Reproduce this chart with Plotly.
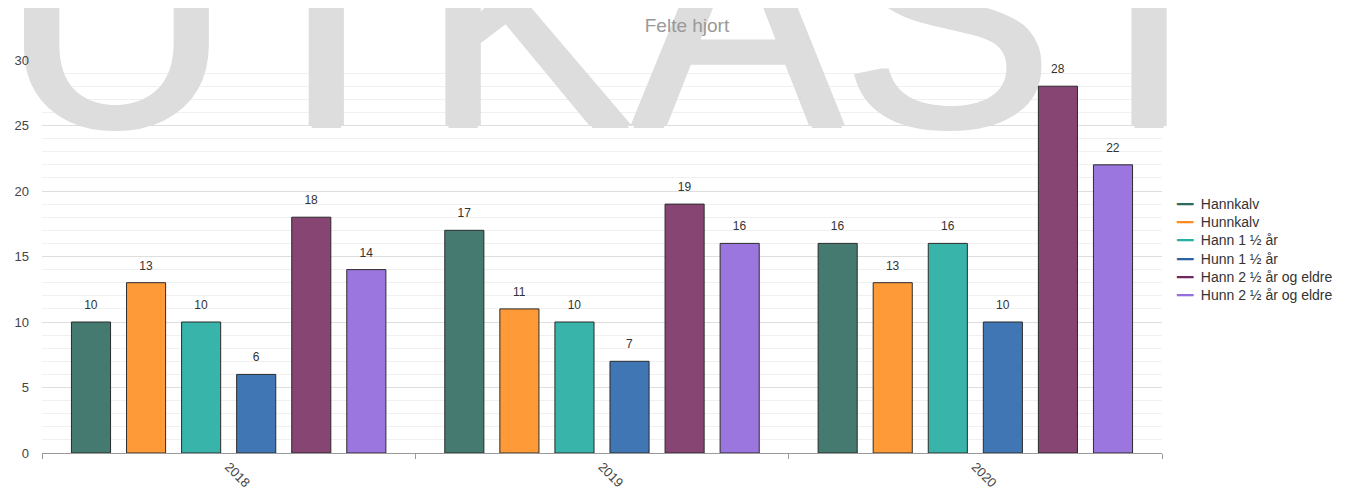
import plotly.graph_objects as go

years = ["2018", "2019", "2020"]
series_names = [
    "Hannkalv",
    "Hunnkalv",
    "Hann 1 ½ år",
    "Hunn 1 ½ år",
    "Hann 2 ½ år og eldre",
    "Hunn 2 ½ år og eldre",
]
hannkalv = [10, 17, 16]
hunnkalv = [13, 11, 13]
hann_1_5 = [10, 10, 16]
hunn_1_5 = [6, 7, 10]
hann_2_5 = [18, 19, 28]
hunn_2_5 = [14, 16, 22]
series_values = [hannkalv, hunnkalv, hann_1_5, hunn_1_5, hann_2_5, hunn_2_5]
watermark_text = "UTKAST"

bar_colors = ["#457a70", "#ff9a38", "#38b4aa", "#3f76b3", "#864572", "#9a76de"]
legend_colors = ["#2d6b5e", "#ff8c22", "#25b0a5", "#2a62a8", "#6e2a5e", "#9370db"]

FONT = "Liberation Sans, Arial, sans-serif"
W, H = 1353, 487
L, R, T, B = 34, 199, 52, 42
PW, PH = W - L - R, H - T - B
YMAX = 30

fig = go.Figure()

# watermark, drawn behind the bars (on the hidden linear base x axis)
WM_SIZE = 315
WM_COLOR = "#dddddd"
wm_baseline = 118                       # px from top of figure
wm_anchor_px = wm_baseline + 0.25 * WM_SIZE   # 'top center' puts baseline 0.25em above point
fig.add_trace(go.Scatter(
    x=[(616 - L) / PW],
    y=[(T + PH - wm_anchor_px) / PH * YMAX],
    mode="text",
    text=[watermark_text],
    textposition="top center",
    textfont=dict(
        size=WM_SIZE, color=WM_COLOR, family=FONT,
        shadow=f"3px 0 0 {WM_COLOR}, -3px 0 0 {WM_COLOR}, 0 2px 0 {WM_COLOR}",
    ),
    cliponaxis=False,
    showlegend=False,
    hoverinfo="skip",
    xaxis="x",
    yaxis="y",
))

for name, vals, col in zip(series_names, series_values, bar_colors):
    fig.add_trace(go.Bar(
        name=name,
        x=years,
        y=vals,
        marker=dict(color=col, line=dict(color="#2b2b2b", width=1)),
        texttemplate="<span style='font-size:12px'>%{y}</span><br> ",
        textposition="outside",
        textfont=dict(size=7, color="#333333", family=FONT),
        cliponaxis=False,
        showlegend=False,
        hoverinfo="x+y+name",
        xaxis="x2",
        yaxis="y",
    ))

legend_lines = [
    f"<span style='color:{c}'>━━</span>  {n}" for n, c in zip(series_names, legend_colors)
]

fig.update_layout(
    width=W,
    height=H,
    margin=dict(l=L, r=R, t=T, b=B, autoexpand=False),
    paper_bgcolor="white",
    plot_bgcolor="white",
    barmode="group",
    bargap=0.115,
    bargroupgap=0.29,
    font=dict(family=FONT, color="#444444"),
    title=dict(
        text="Felte hjort",
        x=679 / W,
        xanchor="center",
        y=1 - 17 / H,
        yanchor="middle",
        font=dict(size=19, color="#999999", family=FONT),
    ),
    xaxis=dict(
        type="linear",
        range=[0, 1],
        visible=False,
        showgrid=False,
        zeroline=False,
        fixedrange=True,
    ),
    xaxis2=dict(
        type="category",
        overlaying="x",
        anchor="y",
        side="bottom",
        showgrid=False,
        showline=True,
        linecolor="#9a9a9a",
        linewidth=1,
        ticks="outside",
        ticklen=5,
        tickcolor="#9a9a9a",
        tickson="boundaries",
        tickangle=45,
        tickfont=dict(size=13, color="#444444", family=FONT),
        automargin=False,
    ),
    yaxis=dict(
        range=[0, YMAX],
        dtick=5,
        showgrid=True,
        gridcolor="#dedede",
        gridwidth=1,
        zeroline=False,
        showline=False,
        ticks="",
        ticklabelstandoff=12,
        tickfont=dict(size=13, color="#444444", family=FONT),
        minor=dict(dtick=1, showgrid=True, gridcolor="#f0f0f0", gridwidth=1),
        automargin=False,
    ),
    annotations=[
        dict(
            text="<br>".join(legend_lines),
            xref="paper", yref="paper",
            x=(1166 - L) / PW, y=(T + PH - 186) / PH,
            xanchor="left", yanchor="top",
            align="left",
            showarrow=False,
            font=dict(size=14, color="#333333", family=FONT),
        ),
    ],
)

fig.write_html("out.html")
